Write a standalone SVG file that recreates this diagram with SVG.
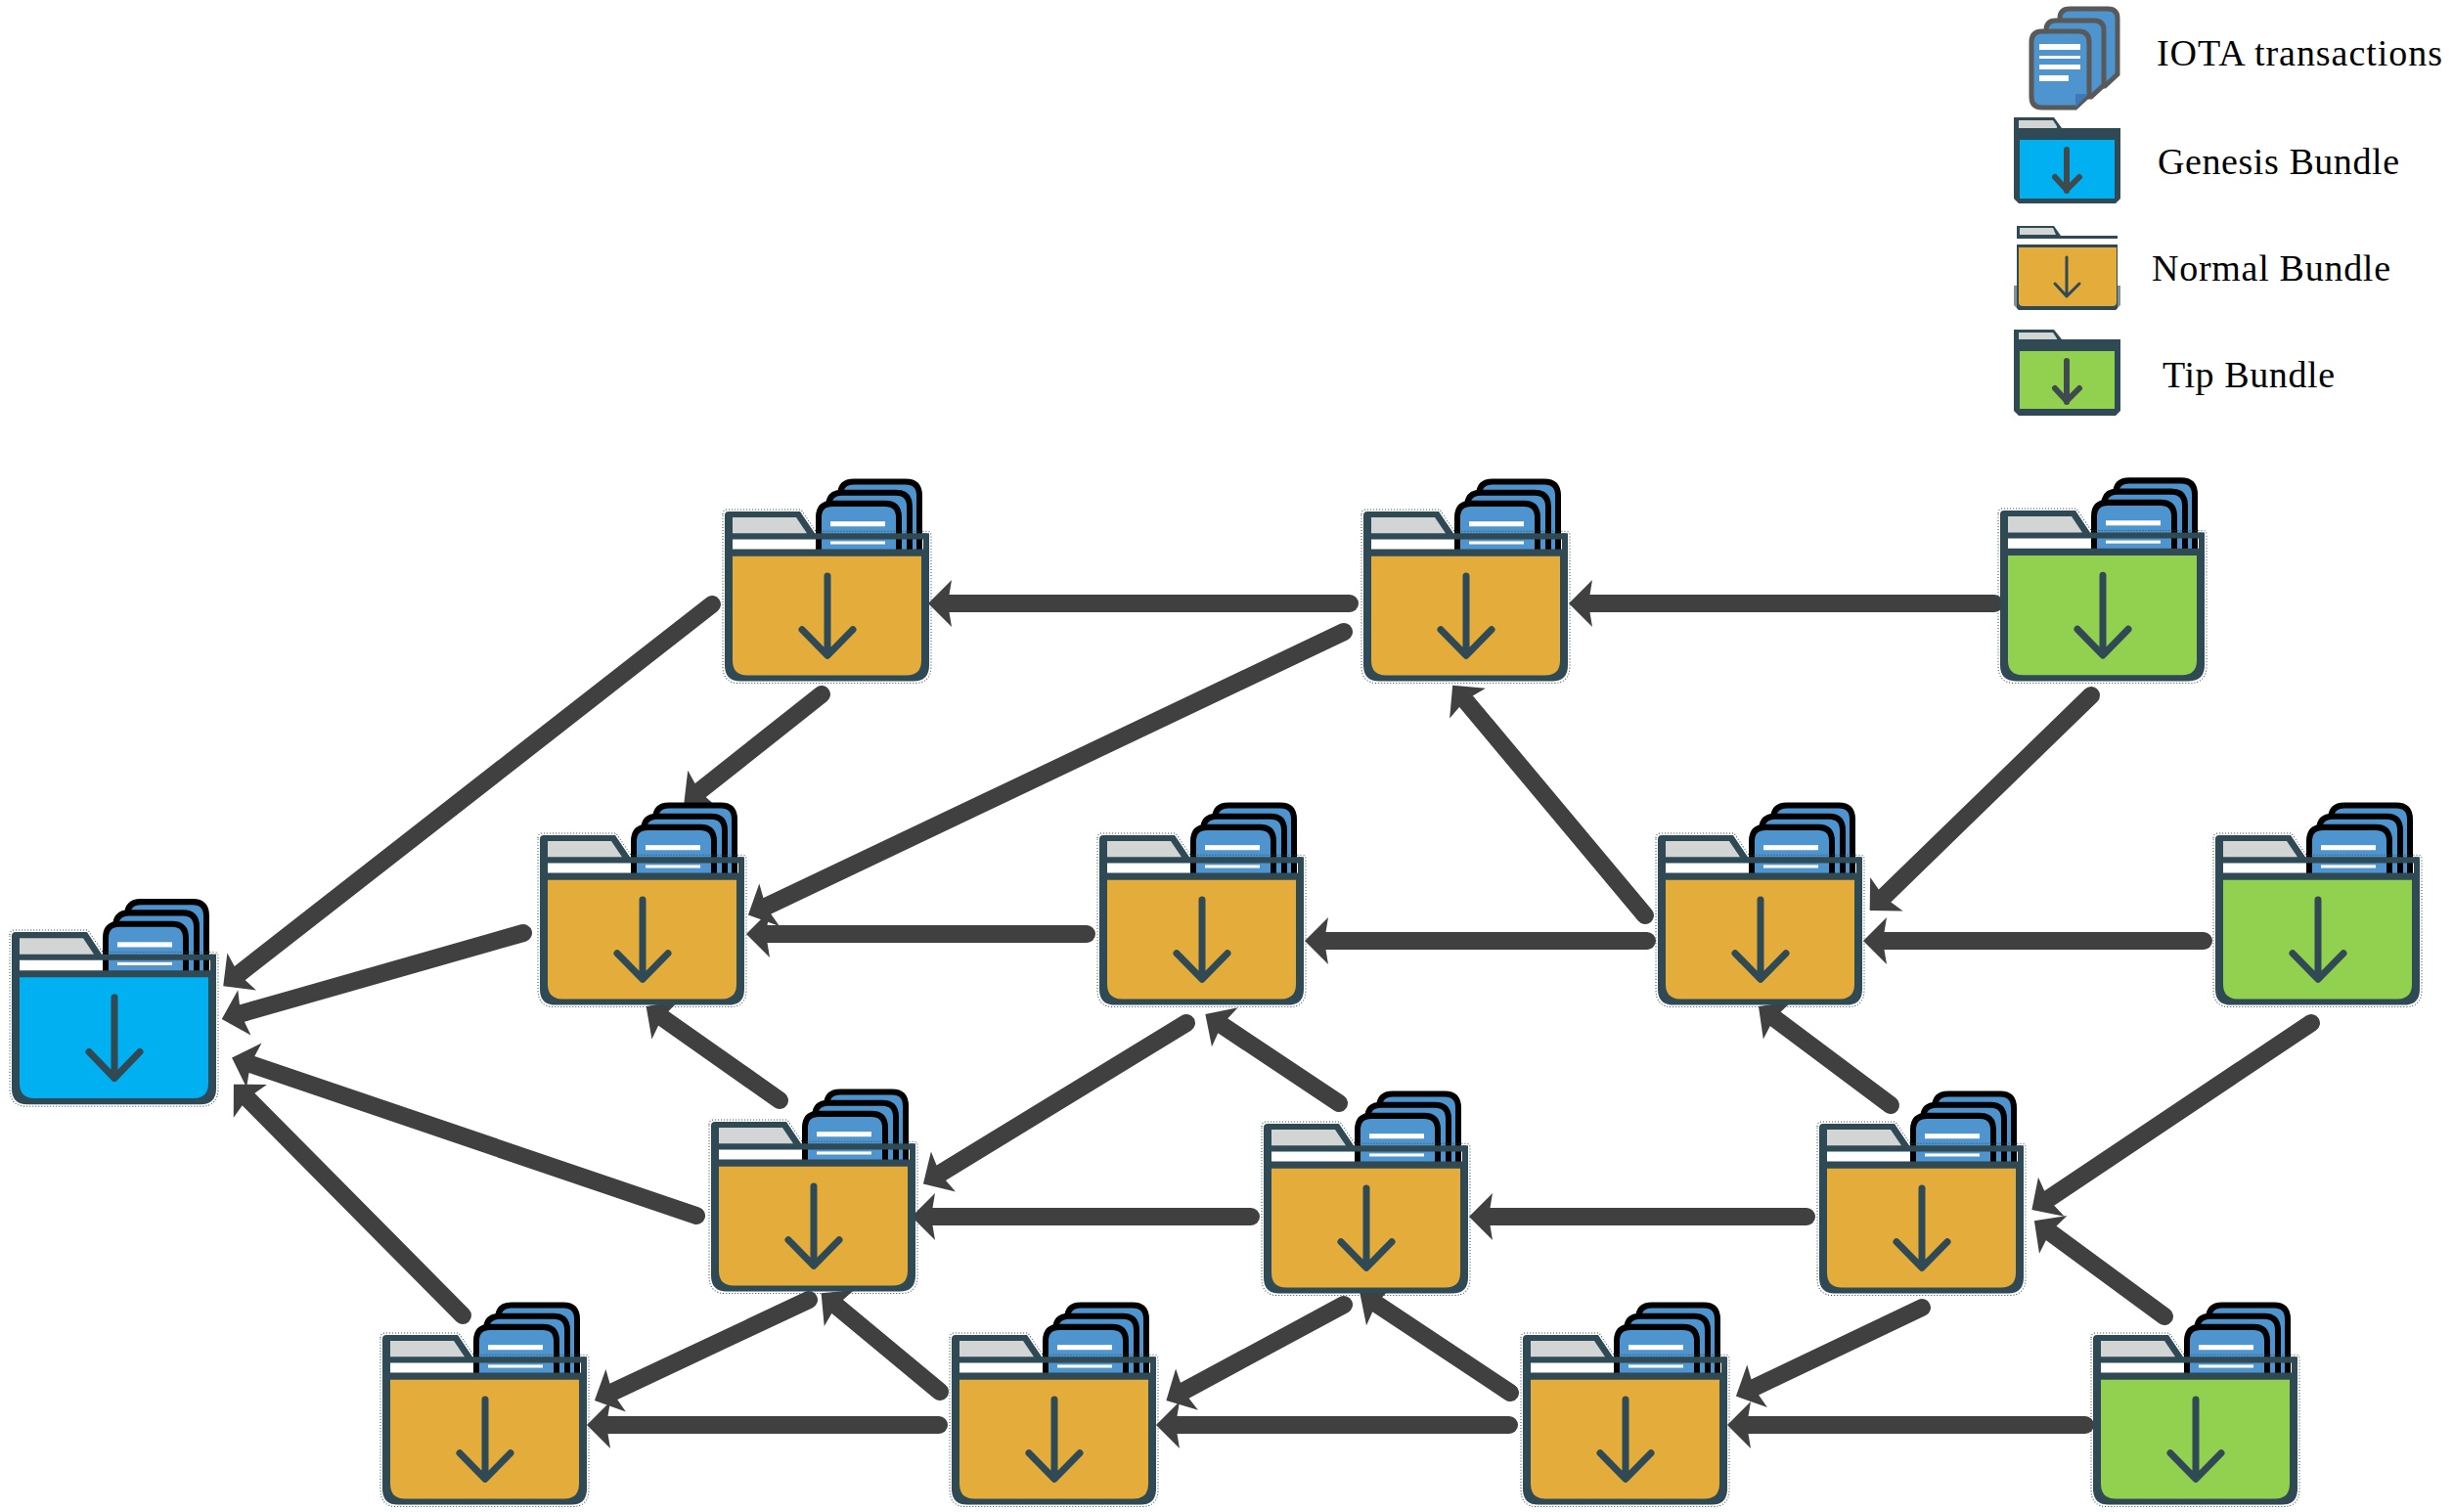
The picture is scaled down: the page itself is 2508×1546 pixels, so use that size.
<svg xmlns="http://www.w3.org/2000/svg" width="2508" height="1546" viewBox="0 0 2508 1546">
<style>
.e{stroke:#404040;stroke-width:18;stroke-linecap:round;fill:none;marker-end:url(#ah)}
.normal{color:#e3ac3b}.tip{color:#92d14f}.genesis{color:#00b0f0}
.dk{fill:#2f4a54}
.doc{fill:#4e94cf;stroke:#000;stroke-width:6}
.ld{fill:#4e94cf;stroke:#595959;stroke-width:5}
.arr{fill:none;stroke:#2f4a54;stroke-width:7;stroke-linecap:round;stroke-linejoin:round}
.dot{fill:none;stroke:#2f4a54;stroke-width:1;stroke-dasharray:1 2}
.t{font-family:"Liberation Serif","Times New Roman",serif;font-size:38px;fill:#000}
</style>
<defs>
<marker id="ah" markerUnits="userSpaceOnUse" markerWidth="60" markerHeight="60" refX="0" refY="0" viewBox="-10 -30 40 60" orient="auto" overflow="visible"><path d="M-4,-24 L20,0 L-4,24 L0,0 Z" fill="#404040"/></marker>
<g id="folder">
<path class="doc" d="M118,45 V-16 Q118,-30 132,-30 H185 Q199,-30 199,-16 V45"/>
<path class="doc" d="M106,45 V-5 Q106,-19 120,-19 H175 Q189,-19 189,-5 V45"/>
<path class="doc" d="M96,45 V6 Q96,-8 110,-8 H164 Q178,-8 178,6 V45"/>
<rect x="108" y="10" width="56" height="5" fill="#fff"/><rect x="108" y="30" width="56" height="3" fill="#fff"/>
<rect x="8" y="28" width="85" height="11" fill="#fff"/>
<path class="dk" d="M0,4 Q0,0 4,0 H77 L92,22 H206 Q209,22 209,25 V28 H8 V40 H0 Z"/>
<rect class="dk" x="203" y="22" width="6" height="24"/>
<path d="M8,6 H73 L84,22 H8 Z" fill="#d3d5d5"/>
<path class="dk" d="M0,38 H209 V155 Q209,171 193,171 H16 Q0,171 0,155 Z"/>
<path d="M8,45 H201 V150 Q201,165 186,165 H23 Q8,165 8,150 Z" fill="currentColor"/>
<path class="arr" d="M105,65 V144 M79,119 L105,145 L131,119"/>
<path class="dot" d="M-2,3 Q-2,-2 3,-2 H78 L93,20 H207 Q211,20 211,24 V156 Q211,173 194,173 H15 Q-2,173 -2,156 Z"/>
</g>
</defs>
<rect width="2508" height="1546" fill="#fff"/>
<g id="connectors">
<line class="e" x1="2039" y1="617" x2="1624" y2="617"/>
<line class="e" x1="1380" y1="617" x2="969" y2="617"/>
<line class="e" x1="728" y1="618" x2="244" y2="996"/>
<line class="e" x1="840" y1="710" x2="715" y2="809"/>
<line class="e" x1="1374" y1="646" x2="783" y2="927"/>
<line class="e" x1="535" y1="954" x2="246" y2="1036.5"/>
<line class="e" x1="1111" y1="955" x2="783" y2="955"/>
<line class="e" x1="1684" y1="962" x2="1354" y2="962"/>
<line class="e" x1="2253" y1="962" x2="1925" y2="962"/>
<line class="e" x1="1682" y1="936" x2="1498" y2="716"/>
<line class="e" x1="2138" y1="711" x2="1926" y2="917"/>
<line class="e" x1="2363" y1="1046" x2="2094" y2="1226"/>
<line class="e" x1="1933" y1="1130" x2="1814" y2="1041"/>
<line class="e" x1="1369" y1="1128" x2="1249" y2="1048"/>
<line class="e" x1="797" y1="1125" x2="677" y2="1040.5"/>
<line class="e" x1="1213" y1="1046" x2="961" y2="1200"/>
<line class="e" x1="712" y1="1243" x2="256" y2="1088"/>
<line class="e" x1="1279" y1="1244" x2="952" y2="1244"/>
<line class="e" x1="1847" y1="1244" x2="1522" y2="1244"/>
<line class="e" x1="473" y1="1345" x2="253" y2="1123"/>
<line class="e" x1="827" y1="1329" x2="626" y2="1423.5"/>
<line class="e" x1="961" y1="1423" x2="855" y2="1335"/>
<line class="e" x1="1374" y1="1334" x2="1210" y2="1422.5"/>
<line class="e" x1="1544" y1="1424" x2="1407" y2="1333"/>
<line class="e" x1="1965" y1="1337" x2="1793" y2="1419"/>
<line class="e" x1="2213" y1="1346" x2="2096" y2="1260"/>
<line class="e" x1="960" y1="1457" x2="620" y2="1457"/>
<line class="e" x1="1543" y1="1457" x2="1202" y2="1457"/>
<line class="e" x1="2132" y1="1457" x2="1786" y2="1457"/>
</g>
<g id="genesis" class="genesis" transform="translate(12,953) scale(1,1.03)"><use href="#folder"/></g>
<g id="n1" class="normal" transform="translate(741,523) scale(1,1.015)"><use href="#folder"/></g>
<g id="n2" class="normal" transform="translate(1394,523) scale(1,1.015)"><use href="#folder"/></g>
<g id="t1" class="tip" transform="translate(2045,522) scale(1,1.02)"><use href="#folder"/></g>
<g id="n3" class="normal" transform="translate(552,854) scale(1,1.015)"><use href="#folder"/></g>
<g id="n4" class="normal" transform="translate(1124,854) scale(1,1.015)"><use href="#folder"/></g>
<g id="n5" class="normal" transform="translate(1695,854) scale(1,1.015)"><use href="#folder"/></g>
<g id="t2" class="tip" transform="translate(2265,854) scale(1,1.015)"><use href="#folder"/></g>
<g id="n6" class="normal" transform="translate(727,1147) scale(1,1.015)"><use href="#folder"/></g>
<g id="n7" class="normal" transform="translate(1292,1149) scale(1,1.015)"><use href="#folder"/></g>
<g id="n8" class="normal" transform="translate(1860,1149) scale(1,1.015)"><use href="#folder"/></g>
<g id="n9" class="normal" transform="translate(391,1365) scale(1,1.015)"><use href="#folder"/></g>
<g id="n10" class="normal" transform="translate(973,1365) scale(1,1.015)"><use href="#folder"/></g>
<g id="n11" class="normal" transform="translate(1557,1365) scale(1,1.015)"><use href="#folder"/></g>
<g id="t3" class="tip" transform="translate(2140,1365) scale(1,1.015)"><use href="#folder"/></g>
<g id="legend-transactions">
<path class="ld" d="M2116,9 H2155 Q2165,9 2165,19 V76 L2152,88 H2106 V19 Q2106,9 2116,9 Z"/>
<path class="ld" d="M2102,21 H2141 Q2151,21 2151,31 V87 L2138,99 H2092 V31 Q2092,21 2102,21 Z"/>
<path class="ld" d="M2088,32 H2125 Q2136,32 2136,43 V97 L2122,110 H2088 Q2077,110 2077,99 V43 Q2077,32 2088,32 Z"/>
<path d="M2122,110 V96 H2135 Z" fill="#3d7ab5"/>
<g fill="#fff"><rect x="2085" y="45" width="42" height="6"/><rect x="2085" y="57" width="42" height="3"/><rect x="2085" y="66" width="42" height="5"/><rect x="2085" y="77" width="30" height="6"/></g>
<text class="t" x="2205" y="67" textLength="292" lengthAdjust="spacing">IOTA transactions</text>
</g>
<g id="legend-genesis">
<path class="dk" d="M2059,120 H2100 L2108,131 H2168 V203 L2163,208 H2064 L2059,203 Z"/>
<path d="M2064,123 H2099 L2103,129 V131 H2064 Z" fill="#d3d5d5"/>
<rect x="2065" y="143" width="97" height="60" fill="#00b0f0"/>
<path class="arr" style="stroke-width:6;stroke:#3f4a4f" d="M2113,153 V195 M2101,181 L2113,194 L2126,181"/>
<text class="t" x="2206" y="178" textLength="247" lengthAdjust="spacing">Genesis Bundle</text>
</g>
<g id="legend-normal">
<path class="dk" d="M2062,231 H2100 L2107,241 H2165 V244 H2062 Z"/>
<path d="M2065,233 H2099 L2102,240 H2065 Z" fill="#d3d5d5"/>
<path fill="#7f9096" d="M2059,292 H2168 V312 L2163,317 H2064 L2059,312 Z"/>
<path class="dk" d="M2062,250 H2165 V315 L2163,317 H2064 L2062,315 Z"/>
<path d="M2064,253 H2164 V309 Q2164,313 2160,313 H2068 Q2064,313 2064,309 Z" fill="#e3ac3b"/>
<path class="arr" style="stroke-width:3" d="M2113,263 V303 M2101,290 L2113,303 L2126,290"/>
<text class="t" x="2200" y="287" textLength="244" lengthAdjust="spacing">Normal Bundle</text>
</g>
<g id="legend-tip">
<path class="dk" d="M2059,337 H2100 L2108,347 H2168 V420 L2163,425 H2064 L2059,420 Z"/>
<path d="M2064,340 H2099 L2103,346 V347 H2064 Z" fill="#d3d5d5"/>
<rect x="2065" y="359" width="97" height="59" fill="#92d14f"/>
<path class="arr" style="stroke-width:6;stroke:#3f4a4f" d="M2113,369 V411 M2101,397 L2113,410 L2126,397"/>
<text class="t" x="2211" y="396" textLength="176" lengthAdjust="spacing">Tip Bundle</text>
</g>
</svg>
